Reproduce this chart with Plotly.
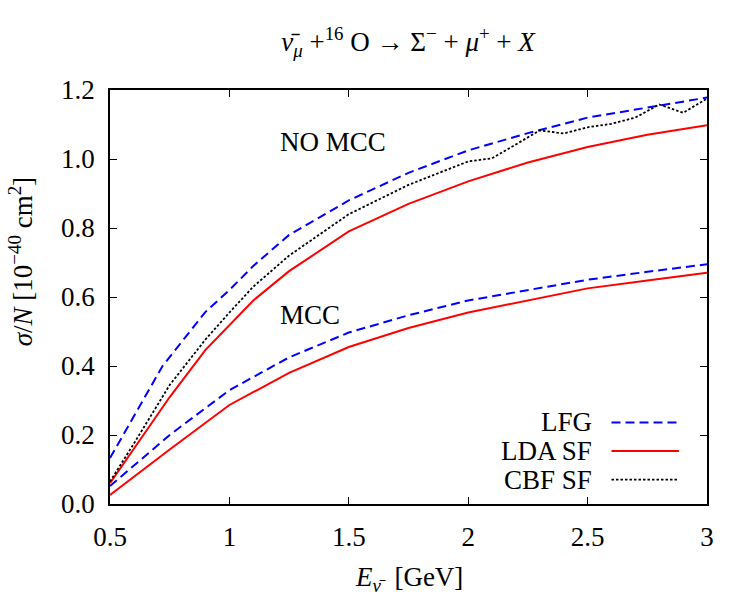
import plotly.graph_objects as go

# Energy grids (GeV)
x_main = [0.5, 0.72, 0.9, 1.0, 1.1, 1.25, 1.5, 1.75, 2.0, 2.25, 2.5, 2.75, 3.0]
x_lda = [0.5, 0.75, 0.9, 1.0, 1.1, 1.25, 1.5, 1.75, 2.0, 2.25, 2.5, 2.75, 3.0]
x_cbf = [0.5, 0.6, 0.75, 0.9, 1.0, 1.1, 1.25, 1.5, 1.75, 2.0, 2.1, 2.3, 2.4, 2.5, 2.6, 2.7, 2.8, 2.9, 3.0]
x_mcc = [0.5, 0.75, 1.0, 1.25, 1.5, 1.75, 2.0, 2.25, 2.5, 2.75, 3.0]

# NO MCC
lfg_nomcc = [0.133, 0.40, 0.557, 0.62, 0.69, 0.78, 0.88, 0.96, 1.025, 1.075, 1.12, 1.15, 1.178]
lda_nomcc = [0.06, 0.31, 0.447, 0.52, 0.59, 0.675, 0.79, 0.87, 0.935, 0.99, 1.035, 1.07, 1.098]
cbf_nomcc = [0.065, 0.175, 0.345, 0.477, 0.555, 0.63, 0.72, 0.84, 0.925, 0.993, 1.002, 1.083, 1.074,
             1.092, 1.102, 1.12, 1.158, 1.134, 1.175]
# MCC
lfg_mcc = [0.052, 0.2, 0.33, 0.425, 0.497, 0.547, 0.59, 0.62, 0.65, 0.673, 0.695]
lda_mcc = [0.026, 0.158, 0.287, 0.38, 0.455, 0.51, 0.555, 0.59, 0.625, 0.648, 0.67]

x_ticks = [0.5, 1, 1.5, 2, 2.5, 3]
y_ticks = [0.0, 0.2, 0.4, 0.6, 0.8, 1.0, 1.2]

FONT = "Liberation Serif"
BLUE = "#0000ff"
RED = "#ff0000"
styles = {
    "LFG": dict(color=BLUE, width=2, dash="9px,5px"),
    "LDA SF": dict(color=RED, width=2, dash="solid"),
    "CBF SF": dict(color="black", width=1.8, dash="2.5px,2px"),
}

fig = go.Figure()
fig.add_trace(go.Scatter(x=x_main, y=lfg_nomcc, mode="lines", line=styles["LFG"], showlegend=False))
fig.add_trace(go.Scatter(x=x_lda, y=lda_nomcc, mode="lines", line=styles["LDA SF"], showlegend=False))
fig.add_trace(go.Scatter(x=x_cbf, y=cbf_nomcc, mode="lines", line=styles["CBF SF"], showlegend=False))
fig.add_trace(go.Scatter(x=x_mcc, y=lfg_mcc, mode="lines", line=styles["LFG"], showlegend=False))
fig.add_trace(go.Scatter(x=x_mcc, y=lda_mcc, mode="lines", line=styles["LDA SF"], showlegend=False))

# Manual gnuplot-style legend (text left, sample right)
legend_names = ["LFG", "LDA SF", "CBF SF"]
for i, name in enumerate(legend_names):
    yy = 0.197 - i * 0.069
    fig.add_annotation(xref="paper", yref="paper", x=0.811, y=yy, xanchor="right", yanchor="middle",
                       text=name, showarrow=False, font=dict(family=FONT, size=27, color="black"))
    fig.add_shape(type="line", xref="paper", yref="paper", x0=0.840, x1=0.953, y0=yy, y1=yy,
                  line=styles[name])

fig.add_annotation(x=1.204, y=1.049, xanchor="left", yanchor="middle", text="NO MCC", showarrow=False,
                   font=dict(family=FONT, size=27, color="black"))
fig.add_annotation(x=1.204, y=0.548, xanchor="left", yanchor="middle", text="MCC", showarrow=False,
                   font=dict(family=FONT, size=27, color="black"))

# Axis titles as annotations
fig.add_annotation(xref="paper", yref="paper", x=-0.15, y=0.585, xanchor="center", yanchor="middle",
                   textangle=-90, showarrow=False,
                   text="<i>σ</i>/<i>N</i> [10<sup>−40</sup> cm<sup>2</sup>]",
                   font=dict(family=FONT, size=27, color="black"))
fig.add_annotation(xref="paper", yref="paper", x=0.5, y=-0.18, xanchor="center", yanchor="middle",
                   showarrow=False,
                   text="<i>E</i><sub><i>ν̄</i></sub>  [GeV]",
                   font=dict(family=FONT, size=27, color="black"))

fig.update_layout(
    width=750, height=600,
    margin=dict(l=110, r=43, t=90, b=96),
    paper_bgcolor="white", plot_bgcolor="white",
    font=dict(family=FONT, size=27, color="black"),
    title=dict(text="<i>ν̄</i><sub><i>μ</i></sub> +<sup>16</sup> O → Σ<sup>−</sup> + <i>μ</i><sup>+</sup> + <i>X</i>",
               x=0.544, xanchor="center", y=0.93, yanchor="middle",
               font=dict(family=FONT, size=27, color="black")),
    showlegend=False,
)
fig.update_xaxes(range=[0.5, 3], tickvals=x_ticks, ticktext=[f"{v:g}" for v in x_ticks],
                 ticks="inside", ticklen=7, tickwidth=1, tickcolor="black",
                 showline=True, linecolor="black", linewidth=1.5, mirror="ticks",
                 showgrid=False, zeroline=False, ticklabelstandoff=8)
fig.update_yaxes(range=[0, 1.2], tickvals=y_ticks, ticktext=[f"{v:.1f}" for v in y_ticks],
                 ticks="inside", ticklen=7, tickwidth=1, tickcolor="black",
                 showline=True, linecolor="black", linewidth=1.5, mirror="ticks",
                 showgrid=False, zeroline=False, ticklabelstandoff=8)

fig.write_html("out.html")
